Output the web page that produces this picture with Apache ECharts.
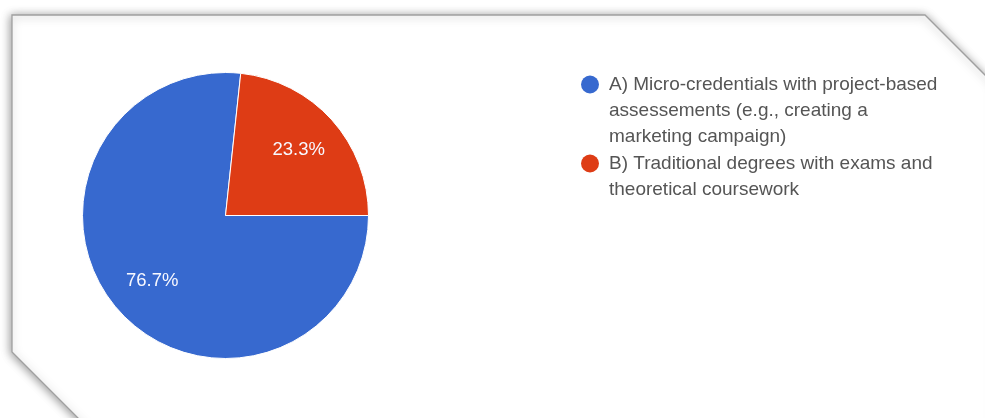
<!DOCTYPE html>
<html>
<head>
<meta charset="utf-8">
<title>Micro-credentials vs traditional degrees</title>
<script src="https://cdn.jsdelivr.net/npm/echarts@6/dist/echarts.min.js"></script>
<style>
  html, body { margin: 0; padding: 0; background: #ffffff; }
  #chart { width: 985px; height: 418px; }
</style>
</head>
<body>
<div id="chart"></div>
<script>
// Survey answer options, each stored as the lines shown in the legend
const categoryLines = [
  ['A) Micro-credentials with project-based', 'assessements (e.g., creating a', 'marketing campaign)'],
  ['B) Traditional degrees with exams and', 'theoretical coursework']
];
const categories = categoryLines.map(lines => lines.join(' '));
// Share of responses (percent)
const shares = [76.7, 23.3];
const sliceColors = ['#3769cf', '#de3c15'];

const FONT = 'Arial, "Liberation Sans", Helvetica, sans-serif';

const pieData = categories.map((name, i) => ({
  name: name,
  value: shares[i],
  itemStyle: { color: sliceColors[i] }
}));

// Rich-text styles: one coloured dot per option plus an indent for wrapped lines
const rich = {
  t: { fontSize: 19, lineHeight: 26, color: '#555555', fontFamily: FONT },
  ind: { width: 28, lineHeight: 26 },
  gap: { width: 10, lineHeight: 26 }
};
sliceColors.forEach((c, i) => {
  rich['dot' + i] = {
    width: 18, height: 18, borderRadius: 9,
    backgroundColor: c, lineHeight: 26
  };
});

// one legend block per option, stacked down the right-hand side
const legendTops = [70, 149];
const legends = categories.map((name, i) => ({
  orient: 'vertical',
  left: 571,
  top: legendTops[i],
  icon: 'none',
  itemWidth: 0,
  itemHeight: 10,
  selectedMode: false,
  data: [name],
  textStyle: { rich: rich, fontFamily: FONT },
  formatter: function (n) {
    const k0 = categories.indexOf(n);
    return categoryLines[k0].map((line, k) =>
      (k === 0 ? '{dot' + k0 + '| }{gap| }' : '{ind| }') + '{t|' + line + '}'
    ).join('\n');
  }
}));

const chart = echarts.init(document.getElementById('chart'), null, { renderer: 'canvas' });

chart.setOption({
  animation: false,
  backgroundColor: '#ffffff',
  textStyle: { fontFamily: FONT },
  graphic: [{
    // card outline with clipped corners
    type: 'polygon',
    z: -10,
    silent: true,
    shape: {
      points: [[12, 15], [925, 15], [995, 85], [995, 430], [90, 430], [12, 352]]
    },
    style: {
      fill: '#ffffff',
      stroke: '#a0a0a0',
      lineWidth: 1.3,
      shadowBlur: 10,
      shadowColor: 'rgba(0,0,0,0.4)',
      shadowOffsetX: -1,
      shadowOffsetY: 1
    }
  }],
  legend: legends,
  series: [
    {
      type: 'pie',
      center: [225.5, 215.5],
      radius: 143,
      startAngle: 0,
      clockwise: true,
      silent: true,
      label: { show: false },
      labelLine: { show: false },
      itemStyle: { borderColor: '#ffffff', borderWidth: 1 },
      data: pieData
    },
    {
      // transparent ring carrying the percentage labels
      type: 'pie',
      center: [225.5, 215.5],
      radius: [48, 143],
      startAngle: 0,
      clockwise: true,
      silent: true,
      legendHoverLink: false,
      itemStyle: { color: 'rgba(0,0,0,0)', borderWidth: 0 },
      label: {
        show: true,
        position: 'inside',
        color: '#f8f8ff',
        fontSize: 18.5,
        fontFamily: FONT,
        formatter: p => p.value.toFixed(1) + '%'
      },
      labelLine: { show: false },
      data: shares.map((v, i) => ({ name: categories[i] + ' ', value: v }))
    }
  ]
});
</script>
</body>
</html>
